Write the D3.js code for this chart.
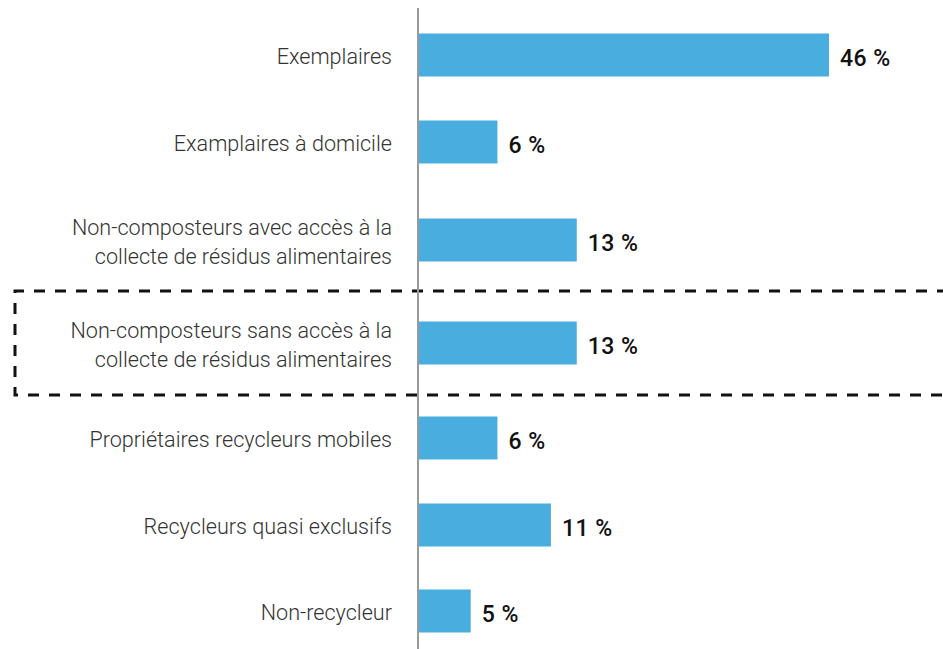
<!DOCTYPE html>
<html>
<head>
<meta charset="utf-8">
<script src="https://cdn.jsdelivr.net/npm/d3@7"></script>
<style>
  body { margin: 0; background: #fff; }
  svg { display: block; }
</style>
</head>
<body>
<svg id="chart" width="943" height="649"></svg>
<script>
// categories (each entry is the lines of the label)
var categories = [
    ["Exemplaires"],
    ["Examplaires à domicile"],
    ["Non-composteurs avec accès à la", "collecte de résidus alimentaires"],
    ["Non-composteurs sans accès à la", "collecte de résidus alimentaires"],
    ["Propriétaires recycleurs mobiles"],
    ["Recycleurs quasi exclusifs"],
    ["Non-recycleur"]
];
// printed shares
var shareLabels = ["46 %", "6 %", "13 %", "13 %", "6 %", "11 %", "5 %"];
// bar lengths as drawn in the picture (same units, 46 = longest bar)
var barLengths = [46, 8.8, 17.7, 17.7, 8.8, 14.8, 5.8];
// row centres as drawn (rows are not evenly spaced)
var rowCentres = [55, 142, 240, 343, 438, 525, 611];
var highlighted = 3;

var svg = d3.select("#chart"),
    width = +svg.attr("width"),
    height = +svg.attr("height");

var x0 = 419;
var x = d3.scaleLinear()
    .domain([0, 46])
    .range([x0, 829]);

var barH = 43;

// dashed box round the highlighted row
var yc = rowCentres[highlighted];
svg.append("path")
    .attr("d", "M" + (width + 5) + "," + (yc - 52) + "H15V" + (yc + 52) + "H" + (width + 5))
    .attr("fill", "none")
    .attr("stroke", "#111")
    .attr("stroke-width", 3)
    .attr("stroke-dasharray", "11,10");

svg.append("g")
    .selectAll("rect")
    .data(barLengths)
    .enter()
    .append("rect")
        .attr("x", x(0))
        .attr("y", function(d, i) { return rowCentres[i] - barH / 2; })
        .attr("width", function(d) { return x(d) - x(0); })
        .attr("height", barH)
        .attr("fill", "#4aaddf");

// axis line
svg.append("line")
    .attr("x1", 418).attr("x2", 418)
    .attr("y1", 8).attr("y2", height)
    .attr("stroke", "#9a9a9a")
    .attr("stroke-width", 2);

// category labels
var labels = svg.append("g")
    .attr("font-family", "Roboto, sans-serif")
    .attr("font-weight", 300)
    .attr("font-size", "21.6px")
    .attr("fill", "#333")
    .attr("text-anchor", "end");

labels.selectAll("text")
    .data(categories)
    .enter()
    .append("text")
        .attr("x", 392)
        .attr("y", function(d, i) { return rowCentres[i]; })
        .each(function(d) {
            var t = d3.select(this);
            var lh = 29;
            d.forEach(function(line, j) {
                t.append("tspan")
                    .attr("x", 392)
                    .attr("y", +t.attr("y") + (j - (d.length - 1) / 2) * lh + 9)
                    .text(line);
            });
        });

// value labels
svg.append("g")
    .attr("font-family", "Roboto, sans-serif")
    .attr("font-weight", 500)
    .attr("font-size", "23px")
    .attr("letter-spacing", "0.5px")
    .attr("fill", "#111")
    .selectAll("text")
    .data(barLengths)
    .enter()
    .append("text")
        .attr("x", function(d) { return x(d) + 11; })
        .attr("y", function(d, i) { return rowCentres[i] + 11; })
        .text(function(d, i) { return shareLabels[i]; });
</script>
</body>
</html>
